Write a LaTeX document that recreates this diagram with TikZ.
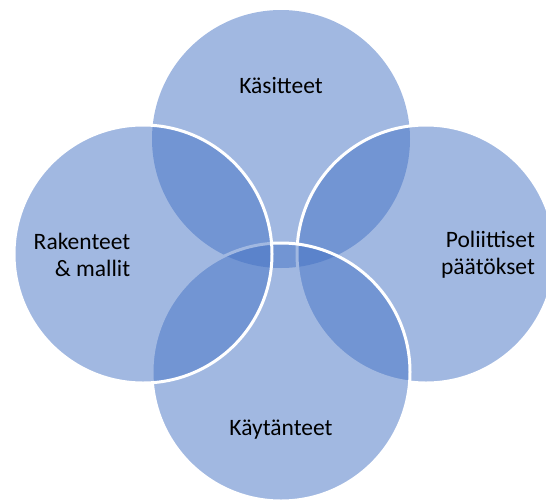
\documentclass[tikz,border=0pt]{standalone}
\usepackage{fontspec}
\setmainfont{Carlito}
\usepackage{tikz}
\usetikzlibrary{positioning}
\definecolor{vennblue}{HTML}{4472C4}

\begin{document}
\begin{tikzpicture}[x=1pt, y=-1pt,
	venn/.style={circle, minimum size=258pt, inner sep=0pt, fill=vennblue, fill opacity=0.5},
	rim/.style={draw=white, line width=3pt},
	lbl/.style={font=\fontsize{23.5}{27}\selectfont, inner sep=0pt}]
			\useasboundingbox (0,0) rectangle (546,501);
			\clip (0,0) rectangle (546,501);
			%% circles, back to front
			\node[venn] (kasitteet) at (281,139) {};
			\node[venn, rim] (poliittiset) at (426,254) {};
			\node[venn, rim] (kaytanteet) at (281,372) {};
			\node[venn, rim] (rakenteet) at (143,254) {};
			
			\node[lbl] (kasLbl) at (281,85) {Käsitteet};
			\node[lbl, align=right] (rakLbl) at (82,255) {Rakenteet\\ \& mallit};
			\node[lbl, align=right] (polLbl) at (488,255) {Poliittiset\\ päätökset};
			\node[lbl] (kayLbl) at (281,430) {Käytänteet};
			\end{tikzpicture}
\end{document}
